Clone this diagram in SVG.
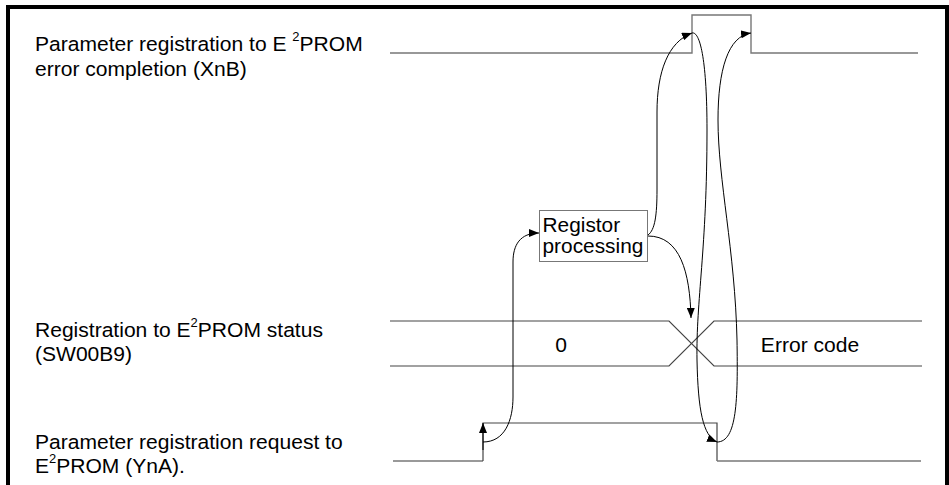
<svg xmlns="http://www.w3.org/2000/svg" width="949" height="485" viewBox="0 0 949 485">
<style>
text{font-family:"Liberation Sans",Arial,sans-serif;font-size:19.5px;fill:#000}
.sup{font-size:12px}
.sig{fill:none;stroke:#777;stroke-width:1.4}
.sigd{fill:none;stroke:#444;stroke-width:1.2}
.conn{fill:none;stroke:#000;stroke-width:1;marker-end:url(#ah)}
</style>
<defs>
<marker id="ah" viewBox="0 0 10 8" refX="10" refY="4" markerWidth="10" markerHeight="8" markerUnits="userSpaceOnUse" orient="auto">
<path d="M0,0 L10,4 L0,8 z" fill="#000"/>
</marker>
</defs>
<rect width="949" height="485" fill="#fff"/>
<path d="M8,485 V7 H947 V485" fill="none" stroke="#000" stroke-width="4"/>

<g id="label-xnb">
<text transform="translate(35,51) scale(1.08,1)"><tspan x="0">Parameter registration to E <tspan class="sup" dy="-10">2</tspan><tspan dy="10">PROM</tspan></tspan><tspan x="0" dy="25">error completion (XnB)</tspan></text>
</g>
<g id="label-status">
<text transform="translate(35,337) scale(1.08,1)"><tspan x="0">Registration to E<tspan class="sup" dy="-10">2</tspan><tspan dy="10">PROM status</tspan></tspan><tspan x="0" dy="24">(SW00B9)</tspan></text>
</g>
<g id="label-yna">
<text transform="translate(35,449) scale(1.08,1)"><tspan x="0">Parameter registration request to</tspan><tspan x="0" dy="24">E<tspan class="sup" dy="-10">2</tspan><tspan dy="10">PROM (YnA).</tspan></tspan></text>
</g>

<g id="signal-xnb">
<path class="sig" d="M390,53 H692 V15 H751 V53 H918"/>
</g>
<g id="signal-status">
<path class="sigd" d="M390,321 H669 L714,366 H922"/>
<path class="sigd" d="M390,366 H669 L714,321 H922"/>
<text transform="translate(561,352) scale(1.08,1)" text-anchor="middle">0</text>
<text transform="translate(810,352) scale(1.08,1)" text-anchor="middle">Error code</text>
</g>
<g id="signal-yna">
<path class="sig" d="M393,461 H483"/>
<path class="sigd" d="M483,461 V423 H717 V461"/>
<path class="sig" d="M717,461 H921"/>
</g>
<g id="box-registor">
<rect x="539.5" y="210.5" width="108" height="51" fill="#fff" stroke="#777" stroke-width="1"/>
<text transform="translate(542.5,231.5) scale(1.07,1)"><tspan x="0">Registor</tspan><tspan x="0" dy="21.5">processing</tspan></text>
</g>

<g id="connectors">
<path class="conn" d="M483,450 V423"/>
<path class="conn" d="M483,442 C505,442 513,420 513,397 L513,262 C513,245 520,233 539,233"/>
<path class="conn" d="M648,235 C655,230 657,215 657,190 L657,112 C657,72 668,42 692,33"/>
<path class="conn" d="M648,236 C680,236 690,272 691,318"/>
<path class="conn" d="M692,33 C700,31 707,60 707,130 C707,250 696,300 697,360 C698,410 703,436 717,442"/>
<path class="conn" d="M717,442 C737,442 738,400 737,340 C735,250 718,180 718,120 C718,70 728,36 751,33"/>
</g>
</svg>
